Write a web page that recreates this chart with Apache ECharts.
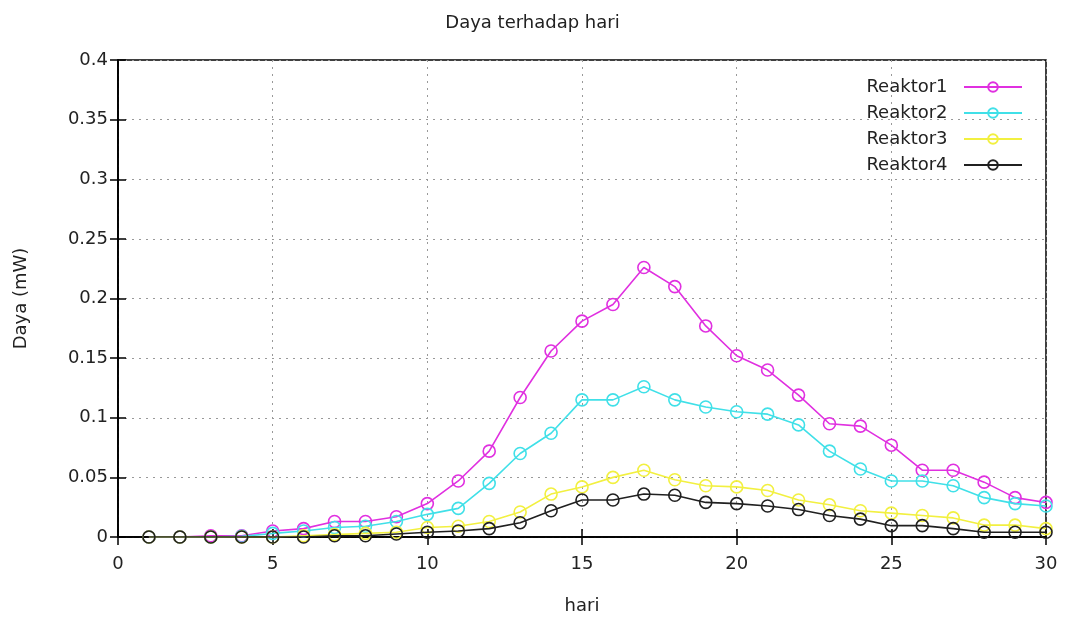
<!DOCTYPE html>
<html>
<head>
<meta charset="utf-8">
<script src="https://cdn.jsdelivr.net/npm/echarts@6/dist/echarts.min.js"></script>
<style>html,body{margin:0;padding:0;background:#fff}#c{width:1065px;height:620px}</style>
</head>
<body>
<div id="c"></div>
<script>
const days = [1,2,3,4,5,6,7,8,9,10,11,12,13,14,15,16,17,18,19,20,21,22,23,24,25,26,27,28,29,30];
const reaktor1 = [0,0,0.001,0.001,0.005,0.007,0.013,0.013,0.017,0.028,0.047,0.072,0.117,0.156,0.181,0.195,0.226,0.210,0.177,0.152,0.140,0.119,0.095,0.093,0.077,0.056,0.056,0.046,0.033,0.029];
const reaktor2 = [0,0,0,0.0005,0.003,0.005,0.008,0.009,0.013,0.019,0.024,0.045,0.070,0.087,0.115,0.115,0.126,0.115,0.109,0.105,0.103,0.094,0.072,0.057,0.047,0.047,0.043,0.033,0.028,0.026];
const reaktor3 = [0,0,0,0,0,0.001,0.002,0.003,0.004,0.008,0.009,0.013,0.021,0.036,0.042,0.050,0.056,0.048,0.043,0.042,0.039,0.031,0.027,0.022,0.020,0.018,0.016,0.010,0.010,0.007];
const reaktor4 = [0,0,0,0,0,0,0.001,0.001,0.0025,0.004,0.005,0.007,0.012,0.022,0.031,0.031,0.036,0.035,0.029,0.028,0.026,0.023,0.018,0.015,0.0095,0.0095,0.007,0.004,0.004,0.004];
const seriesNames = ['Reaktor1','Reaktor2','Reaktor3','Reaktor4'];
const seriesColors = ['#e030e0','#40e0e8','#f2f040','#202020'];
const xTicks = [0,5,10,15,20,25,30];
const yTicks = [0,0.05,0.1,0.15,0.2,0.25,0.3,0.35,0.4];

const all = [reaktor1, reaktor2, reaktor3, reaktor4];
const font = 'DejaVu Sans';
const chart = echarts.init(document.getElementById('c'), null, {renderer:'canvas'});
const tickStyle = () => ({show:true, inside:true, length:8, lineStyle:{color:'#000', width:1.5}});
const gridLine = {show:true, lineStyle:{color:'#999', type:[2,5], width:1}};
chart.setOption({
  animation:false,
  backgroundColor:'#fff',
  title:{text:'Daya terhadap hari', left:'center', top:9, textStyle:{fontFamily:font, fontSize:18, fontWeight:'normal', color:'#222'}},
  legend:{
    orient:'vertical', right:37, top:73, align:'right', itemWidth:58, itemHeight:12, itemGap:8,
    data:seriesNames,
    formatter: n => n + '  ',
    textStyle:{fontFamily:font, fontSize:18, color:'#222'}
  },
  grid:{left:118, right:19, top:60, bottom:81, show:true, borderColor:'#000', borderWidth:1.5},
  xAxis:[{
    type:'value', min:0, max:30, interval:5,
    name:'hari', nameLocation:'middle', nameGap:60,
    nameTextStyle:{fontFamily:font, fontSize:18, color:'#222'},
    axisLine:{show:true, lineStyle:{color:'#000', width:1.5}},
    axisTick:tickStyle(),
    axisLabel:{fontFamily:font, fontSize:18, color:'#222', margin:18, formatter:v=>xTicks.includes(v)?String(v):''},
    splitLine:gridLine
  },{
    type:'value', min:0, max:30, interval:5, position:'top',
    axisLine:{show:true, lineStyle:{color:'#000', width:1.5}},
    axisTick:tickStyle(), axisLabel:{show:false}, splitLine:{show:false}
  }],
  yAxis:[{
    type:'value', min:0, max:0.4, interval:0.05,
    name:'Daya (mW)', nameLocation:'middle', nameGap:88, nameRotate:90,
    nameTextStyle:{fontFamily:font, fontSize:18, color:'#222'},
    axisLine:{show:true, lineStyle:{color:'#000', width:1.5}},
    axisTick:tickStyle(),
    axisLabel:{fontFamily:font, fontSize:18, color:'#222', margin:10, formatter:v=>{const t=yTicks.find(x=>Math.abs(x-v)<1e-9);return t===undefined?'':String(+t.toFixed(2));}},
    splitLine:gridLine
  },{
    type:'value', min:0, max:0.4, interval:0.05, position:'right',
    axisLine:{show:true, lineStyle:{color:'#000', width:1.5}},
    axisTick:tickStyle(), axisLabel:{show:false}, splitLine:{show:false}
  }],
  series: seriesNames.map((n,i)=>({
    name:n, type:'line', xAxisIndex:0, yAxisIndex:0,
    data: days.map((d,j)=>[d, all[i][j]]),
    symbol:'circle', symbolSize:12, showSymbol:true,
    color:seriesColors[i],
    lineStyle:{width:1.6, color:seriesColors[i]},
    itemStyle:{color:'rgba(255,255,255,0)', borderColor:seriesColors[i], borderWidth:1.6},
    z: 2 + i
  }))
});
</script>
</body>
</html>
